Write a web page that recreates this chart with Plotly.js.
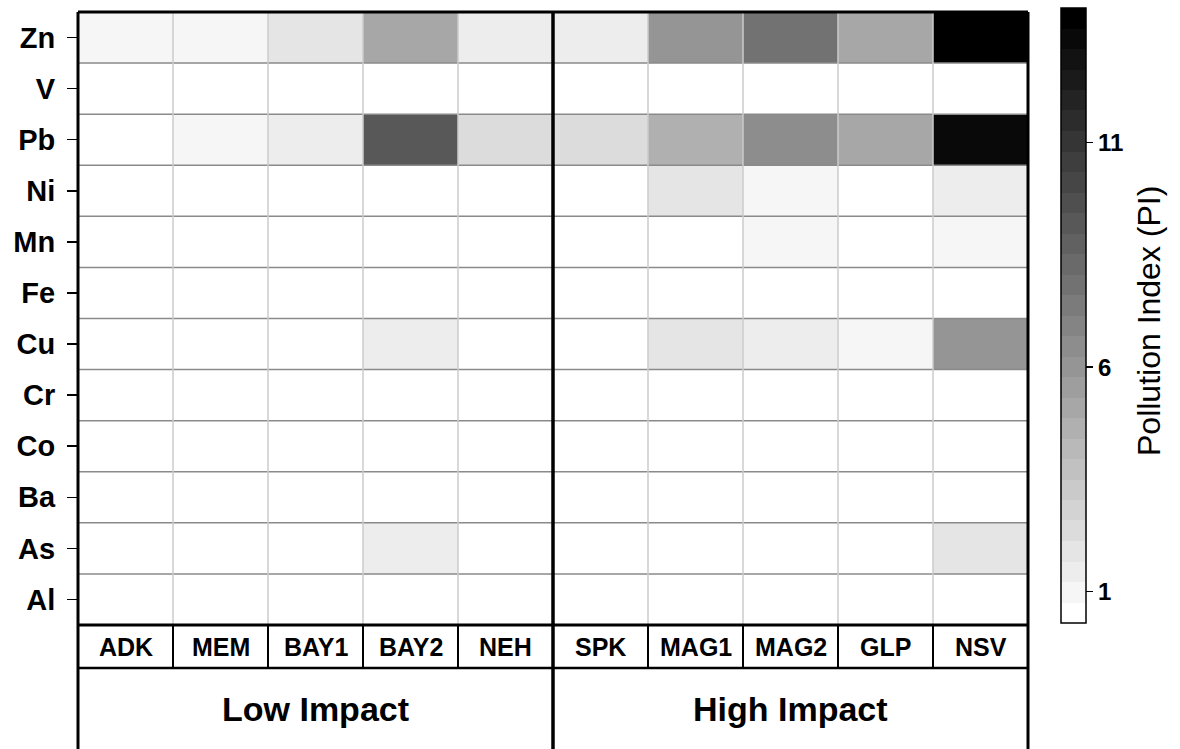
<!DOCTYPE html>
<html>
<head>
<meta charset="utf-8">
<script src="https://cdn.plot.ly/plotly-3.0.1.min.js"></script>
<style>html,body{margin:0;padding:0;background:#fff;}#chart{width:1180px;height:749px;}</style>
</head>
<body>
<div id="chart"></div>
<script>
// ---- data ----
const sites = ['ADK','MEM','BAY1','BAY2','NEH','SPK','MAG1','MAG2','GLP','NSV'];
const elements = ['Zn','V','Pb','Ni','Mn','Fe','Cu','Cr','Co','Ba','As','Al'];
const groupLabels = ['Low Impact','High Impact'];
const groupSizes = [5,5];
const colorTicks = [1,6,11];
const colorbarTitle = 'Pollution Index (PI)';

const zn = [1.0, 1.0, 1.9, 5.1, 1.45, 1.45, 6.2, 7.8, 5.1, 13.8];
const v  = [0.40, 0.40, 0.45, 0.45, 0.40, 0.40, 0.50, 0.50, 0.45, 0.55];
const pb = [0.60, 0.95, 1.40, 9.2, 2.35, 2.35, 4.6, 6.3, 5.1, 13.3];
const ni = [0.50, 0.50, 0.55, 0.60, 0.50, 0.55, 1.9, 1.0, 0.70, 1.40];
const mn = [0.40, 0.45, 0.50, 0.55, 0.45, 0.50, 0.60, 1.0, 0.65, 1.0];
const fe = [0.40, 0.40, 0.45, 0.45, 0.40, 0.45, 0.50, 0.50, 0.45, 0.50];
const cu = [0.50, 0.55, 0.60, 1.40, 0.60, 0.60, 2.0, 1.45, 1.0, 5.8];
const cr = [0.40, 0.40, 0.45, 0.50, 0.40, 0.45, 0.50, 0.50, 0.45, 0.60];
const co = [0.35, 0.35, 0.40, 0.45, 0.40, 0.40, 0.45, 0.45, 0.40, 0.50];
const ba = [0.40, 0.45, 0.45, 0.50, 0.45, 0.45, 0.50, 0.55, 0.50, 0.60];
const as = [0.50, 0.50, 0.55, 1.40, 0.50, 0.50, 0.60, 0.60, 0.55, 1.9];
const al = [0.35, 0.35, 0.40, 0.40, 0.35, 0.40, 0.45, 0.45, 0.40, 0.50];
const zMin = 0.3, zMax = 14.0, nBands = 30;

// ---- build ----
const z = [zn, v, pb, ni, mn, fe, cu, cr, co, ba, as, al];

const colorscale = [];
for (let k = 0; k < nBands; k++) {
  const g = Math.round(255 * (1 - k / (nBands - 1)));
  const c = 'rgb(' + g + ',' + g + ',' + g + ')';
  colorscale.push([k / nBands, c]);
  colorscale.push([(k + 1) / nBands, c]);
}

const FONT = 'Liberation Sans, Arial, Helvetica, sans-serif';
const W = 1180, H = 749;
const plotLeft = 78, plotRight = 1028;
const plotTop = 12, plotBottom = 625, plotH = plotBottom - plotTop, plotW = plotRight - plotLeft;
const py = (pix) => (plotBottom - pix) / plotH; // pixel row -> paper y
const px = (pix) => (pix - plotLeft) / plotW;   // pixel col -> paper x
const siteRowBottom = py(668);
const tableBottom = py(752);

const shapes = [];
// horizontal grid lines between rows
for (let i = 0; i < elements.length - 1; i++) {
  shapes.push({type:'line', xref:'paper', yref:'y', x0:0, x1:1, y0:i+0.5, y1:i+0.5,
    line:{color:'#8a8a8a', width:1.5}, layer:'above'});
}
// vertical grid lines between columns
for (let j = 0; j < sites.length - 1; j++) {
  shapes.push({type:'line', xref:'x', yref:'paper', x0:j+0.5, x1:j+0.5, y0:0, y1:1,
    line:{color:'#cbcbcb', width:1.5}, layer:'above'});
}
// table: site row separators
for (let j = 1; j < sites.length; j++) {
  shapes.push({type:'line', xref:'paper', yref:'paper', x0:j/sites.length, x1:j/sites.length,
    y0:0, y1:siteRowBottom, line:{color:'#000', width:2}});
}
shapes.push({type:'line', xref:'paper', yref:'paper', x0:0, x1:1, y0:siteRowBottom, y1:siteRowBottom,
  line:{color:'#000', width:2.5}});
// outer edges
shapes.push({type:'line', xref:'paper', yref:'paper', x0:0, x1:0, y0:1, y1:tableBottom, line:{color:'#000', width:3}});
shapes.push({type:'line', xref:'paper', yref:'paper', x0:1, x1:1, y0:1, y1:tableBottom, line:{color:'#000', width:3}});
shapes.push({type:'line', xref:'paper', yref:'paper', x0:0, x1:1, y0:1, y1:1, line:{color:'#000', width:3}});
shapes.push({type:'line', xref:'paper', yref:'paper', x0:0, x1:1, y0:0, y1:0, line:{color:'#000', width:3}});
// group separators
let acc = 0;
for (let g = 0; g < groupSizes.length - 1; g++) {
  acc += groupSizes[g];
  const xp = acc / sites.length;
  shapes.push({type:'line', xref:'paper', yref:'paper', x0:xp, x1:xp, y0:1, y1:tableBottom,
    line:{color:'#000', width:3.5}});
}

const annotations = [];
sites.forEach((s, j) => {
  annotations.push({xref:'x', yref:'paper', x:j, y:(0 + siteRowBottom) / 2, text:s, showarrow:false,
    xanchor:'center', yanchor:'middle', font:{family:FONT, size:25, color:'#000', weight:700}});
});
acc = 0;
groupLabels.forEach((g, i) => {
  const center = acc + (groupSizes[i] - 1) / 2;
  acc += groupSizes[i];
  annotations.push({xref:'x', yref:'paper', x:center, y:py(709), text:g, showarrow:false,
    xanchor:'center', yanchor:'middle', font:{family:FONT, size:34, color:'#000', weight:700}});
});
// colorbar title
annotations.push({xref:'paper', yref:'paper', x:px(1149), y:py(321), text:colorbarTitle, textangle:-90,
  showarrow:false, xanchor:'center', yanchor:'middle', font:{family:FONT, size:32, color:'#000'}});

const trace = {
  type:'heatmap', x:sites, y:elements, z:z, zmin:zMin, zmax:zMax,
  colorscale:colorscale, zsmooth:false, hoverinfo:'skip',
  colorbar:{
    x:px(1061), xanchor:'left', xpad:0, ypad:0,
    y:py(8), yanchor:'top', lenmode:'pixels', len:615,
    thickness:25, outlinewidth:1.5, outlinecolor:'#000',
    tickmode:'array', tickvals:colorTicks, ticktext:colorTicks.map(String),
    ticks:'outside', ticklen:7, tickwidth:1.5, tickcolor:'#000',
    tickfont:{family:FONT, size:24, color:'#000', weight:700}
  }
};

const layout = {
  width:W, height:H,
  margin:{l:plotLeft, r:W - plotRight, t:plotTop, b:H - plotBottom, autoexpand:false},
  paper_bgcolor:'#fff', plot_bgcolor:'#fff',
  xaxis:{type:'category', range:[-0.5, sites.length - 0.5], showticklabels:false, ticks:'',
    showgrid:false, zeroline:false, showline:false, fixedrange:true},
  yaxis:{type:'category', autorange:'reversed', showgrid:false, zeroline:false, showline:false,
    ticks:'outside', ticklen:10, tickwidth:1.5, tickcolor:'#000', ticklabelstandoff:6,
    tickfont:{family:FONT, size:29, color:'#000', weight:700}, fixedrange:true},
  shapes:shapes, annotations:annotations, showlegend:false
};

Plotly.newPlot('chart', [trace], layout, {displayModeBar:false, staticPlot:true});
</script>
</body>
</html>
